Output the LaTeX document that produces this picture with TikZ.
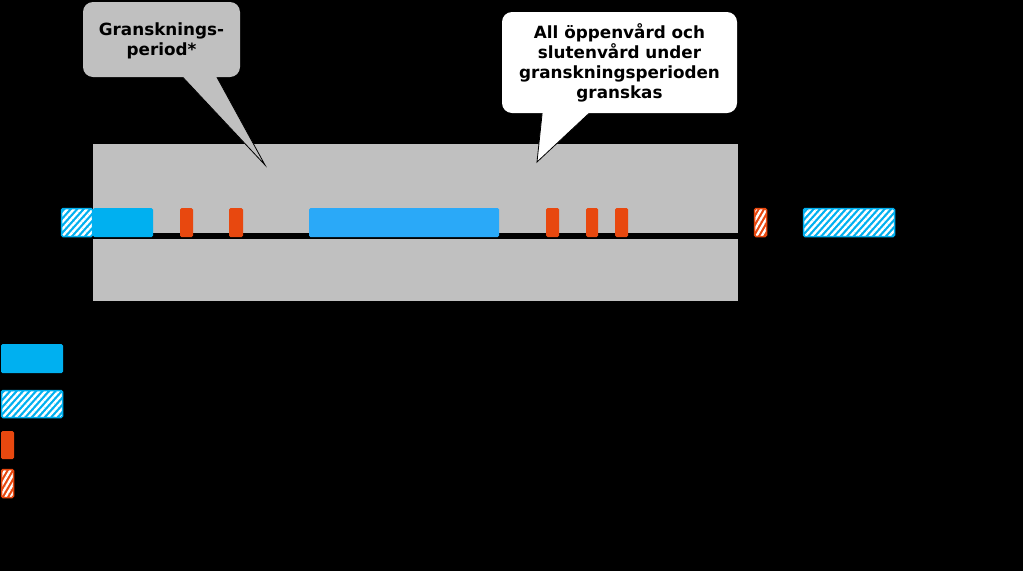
\documentclass[tikz,border=0pt]{standalone}
\usepackage{fontspec}
\setmainfont{DejaVu Sans}
\usetikzlibrary{patterns.meta}
\definecolor{bgray}{HTML}{C0C0C0}
\definecolor{sblue}{HTML}{00B0F0}
\definecolor{mblue}{HTML}{2AA9F8}
\definecolor{orng}{HTML}{E8480F}
\begin{document}
\begin{tikzpicture}[x=1pt,y=-1pt,
  bar/.style={inner sep=0pt, outer sep=0pt, anchor=north west, rounded corners=1.5pt, minimum height=29pt},
  bluebar/.style={bar, fill=sblue},
  midbar/.style={bar, fill=mblue},
  orangebar/.style={bar, fill=orng},
  bluehatch/.style={bar, draw=sblue, line width=1.5pt, preaction={fill=sblue},
     pattern={Lines[angle=48,distance=4.8pt,line width=2.4pt]}, pattern color=white},
  orangehatch/.style={bar, draw=orng, line width=1.5pt, preaction={fill=orng},
     pattern={Lines[angle=60,distance=4.6pt,line width=2.3pt]}, pattern color=white},
  bubble/.style={rounded corners=10pt, inner sep=0pt, outer sep=0pt, align=center,
     font=\fontsize{16.8}{20}\selectfont\bfseries},
]
\useasboundingbox (0,0) rectangle (1023,571);
\fill[black] (0,0) rectangle (1023,571);

% panel and timeline
\node[inner sep=0pt, outer sep=0pt, anchor=north west, fill=bgray, minimum width=645pt, minimum height=157pt] (panel) at (93,144) {};
\node[inner sep=0pt, outer sep=0pt, anchor=north west, fill=black, minimum width=645pt, minimum height=6pt] (timeline) at (93,233) {};

% bars
\node[bluehatch, minimum width=31pt, minimum height=28pt] (h1) at (61.5,208.5) {};
\node[bluebar, minimum width=60pt] (b1) at (93,208) {};
\node[orangebar, minimum width=13pt] (o1) at (180,208) {};
\node[orangebar, minimum width=14pt] (o2) at (229,208) {};
\node[midbar, minimum width=190pt] (b2) at (309,208) {};
\node[orangebar, minimum width=13pt] (o3) at (546,208) {};
\node[orangebar, minimum width=12pt] (o4) at (586,208) {};
\node[orangebar, minimum width=13pt] (o5) at (615,208) {};
\node[orangehatch, minimum width=12pt, minimum height=28pt] (oh1) at (754.5,208.5) {};
\node[bluehatch, minimum width=91pt, minimum height=28pt] (h2) at (803.5,208.5) {};

% legend
\node[bluebar, minimum width=62pt] (lb) at (1,344) {};
\node[bluehatch, minimum width=61pt, minimum height=27pt] (lh) at (1.5,390.5) {};
\node[orangebar, minimum width=13pt, minimum height=28pt] (lo) at (1,431) {};
\node[orangehatch, minimum width=12pt, minimum height=28pt] (loh) at (1.5,469.5) {};

% bubble 1 (gray)
\coordinate (tip1) at (265,165);
\filldraw[fill=bgray, draw=black, line width=0.8pt] (176,70) -- (tip1) -- (213,70) -- cycle;
\node[bubble, fill=bgray, minimum width=157pt, minimum height=75pt, text depth=-4pt] (bub1) at (161.5,39.5) {Gransknings-\\period*};

% bubble 2 (white)
\coordinate (tip2) at (537,162);
\filldraw[fill=white, draw=black, line width=0.8pt] (543,105) -- (tip2) -- (598,105) -- cycle;
\node[bubble, fill=white, minimum width=235pt, minimum height=101pt] (bub2) at (619.5,62.5) {All öppenvård och\\slutenvård under\\granskningsperioden\\granskas};
\end{tikzpicture}
\end{document}
